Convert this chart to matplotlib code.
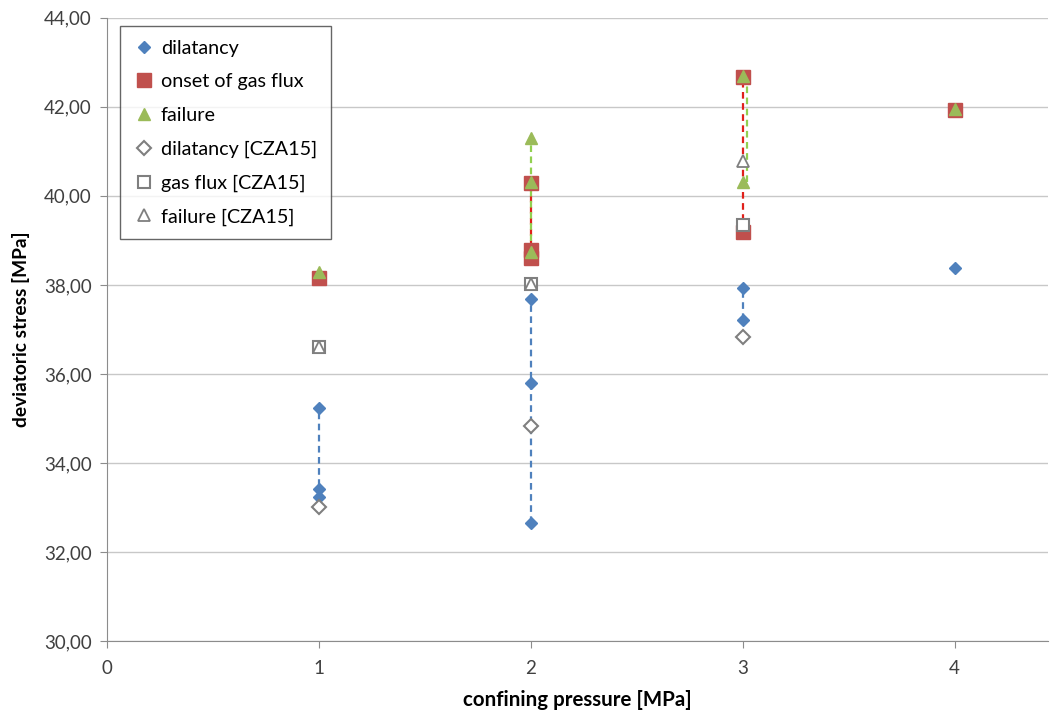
import matplotlib

matplotlib.use("Agg")
import matplotlib.pyplot as plt
from matplotlib.ticker import FuncFormatter

plt.rcParams["font.family"] = ["Lato", "DejaVu Sans"]

# measured values per confining pressure [MPa]
dil_p = [1, 1, 1, 2, 2, 2, 3, 3, 4]
dil_q = [35.24, 33.42, 33.24, 37.68, 35.80, 32.66, 37.94, 37.22, 38.38]

gas_p = [1, 2, 2, 2, 3, 3, 4]
gas_q = [38.16, 40.30, 38.78, 38.60, 42.68, 39.18, 41.93]

fail_p = [1, 2, 2, 2, 3, 3, 4]
fail_q = [38.28, 41.30, 40.32, 38.74, 42.70, 40.32, 41.95]

# literature values [CZA15]
cza_p = [1, 2, 3]
cza_dil = [33.02, 34.83, 36.82]
cza_gas = [36.60, 38.02, 39.35]
cza_fail = [36.60, 38.02, 40.78]

BLUE = "#4F81BD"
RED = "#C0504D"
GREEN = "#9BBB59"
GREY = "#7F7F7F"


def group_lines(ax, p, q, color, shift=None):
    # dashed vertical connector through all points sharing one pressure
    shift = shift or {}
    for x in sorted(set(p)):
        ys = [v for k, v in zip(p, q) if k == x]
        if len(ys) > 1:
            xs = x + shift.get(x, 0.0)
            ax.plot([xs, xs], [min(ys), max(ys)], ls=(0, (3, 2)), lw=1.6,
                    color=color, zorder=2)


fig = plt.figure(figsize=(10.5, 7.13), dpi=100)
ax = fig.add_axes([0.102, 0.101, 0.896, 0.874])

group_lines(ax, dil_p, dil_q, BLUE)
group_lines(ax, gas_p, gas_q, "#E0201B")
group_lines(ax, fail_p, fail_q, "#92D050", shift={3: 0.022})

ax.plot(dil_p, dil_q, ls="none", marker="D", ms=6.5, color=BLUE,
        label="dilatancy", zorder=3)
ax.plot(gas_p, gas_q, ls="none", marker="s", ms=9.5, color=RED,
        label="onset of gas flux", zorder=3)
ax.plot(fail_p, fail_q, ls="none", marker="^", ms=9, color=GREEN,
        label="failure", zorder=4)
ax.plot(cza_p, cza_dil, ls="none", marker="D", ms=7, mfc="white",
        mec=GREY, mew=1.5, label="dilatancy [CZA15]", zorder=5)
ax.plot(cza_p, cza_gas, ls="none", marker="s", ms=8.5, mfc="white",
        mec=GREY, mew=1.5, label="gas flux [CZA15]", zorder=5)
ax.plot(cza_p, cza_fail, ls="none", marker="^", ms=8, mfc="white",
        mec=GREY, mew=1.3, label="failure [CZA15]", zorder=6)

ax.set_xlim(0, 4.44)
ax.set_ylim(30, 44)
ax.set_xticks([0, 1, 2, 3, 4])
ax.set_yticks(range(30, 45, 2))
ax.yaxis.set_major_formatter(FuncFormatter(lambda v, _: f"{v:.2f}".replace(".", ",")))
ax.grid(axis="y", color="#C8C8C8", lw=1.0)
ax.set_axisbelow(True)

for side in ("top", "right"):
    ax.spines[side].set_visible(False)
for side in ("left", "bottom"):
    ax.spines[side].set_color("#8C8C8C")
ax.tick_params(axis="both", colors="#8C8C8C", labelcolor="#404040",
               labelsize=13.5, length=5)
ax.tick_params(axis="x", pad=9)
ax.tick_params(axis="y", pad=6)

ax.set_xlabel("confining pressure [MPa]", fontsize=14.8, fontweight="bold",
              labelpad=9)
ax.set_ylabel("deviatoric stress [MPa]", fontsize=13.8, fontweight="bold",
              labelpad=10)

leg = ax.legend(loc="upper left", bbox_to_anchor=(0.014, 0.987), fontsize=14.2,
                frameon=True, fancybox=False, handlelength=1.0,
                handletextpad=0.35, labelspacing=0.84, borderpad=0.7,
                borderaxespad=0.0)
leg.get_frame().set_edgecolor("#404040")
leg.get_frame().set_linewidth(1.0)

fig.savefig("out.png", dpi=100)
